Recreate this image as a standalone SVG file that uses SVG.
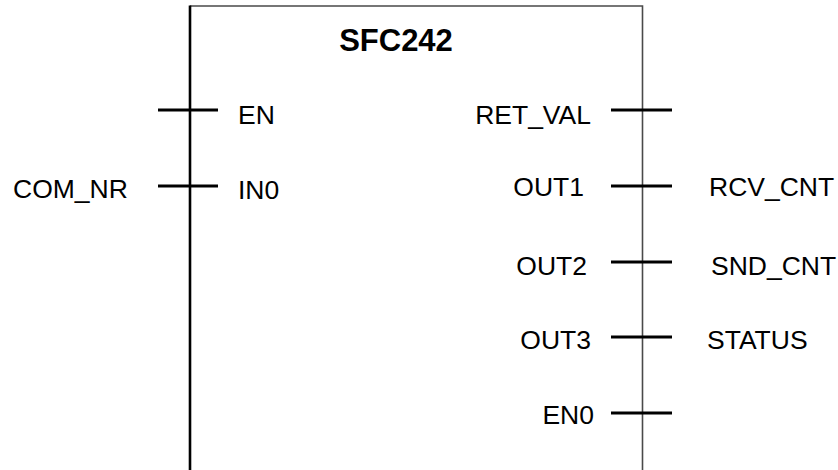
<svg xmlns="http://www.w3.org/2000/svg" width="838" height="470" viewBox="0 0 838 470">
<style>
.t{font-family:"Liberation Sans",Arial,sans-serif;font-size:26.5px;fill:#000}
.r{text-anchor:end}
.pin{stroke:#000;stroke-width:3;fill:none}
.frame{stroke:#4a4a4a;stroke-width:1.6;fill:none}
</style>
<rect width="838" height="470" fill="#fff"/>
<g id="block">
<path class="frame" d="M190 6 H642.5 V470"/>
<line x1="190" y1="5.5" x2="190" y2="470" stroke="#000" stroke-width="2.6"/>
<text x="396" y="51" text-anchor="middle" style="font-family:'Liberation Sans',Arial,sans-serif;font-size:31px;font-weight:bold">SFC242</text>
</g>
<g id="connectors">
<line class="pin" x1="158" y1="110" x2="218" y2="110"/>
<line class="pin" x1="158" y1="186" x2="218" y2="186"/>
<line class="pin" x1="611" y1="110" x2="672" y2="110"/>
<line class="pin" x1="611" y1="186" x2="672" y2="186"/>
<line class="pin" x1="611" y1="262" x2="672" y2="262"/>
<line class="pin" x1="611" y1="337" x2="672" y2="337"/>
<line class="pin" x1="611" y1="413" x2="672" y2="413"/>
</g>
<g id="pin-EN"><text class="t" x="238" y="124">EN</text></g>
<g id="pin-IN0"><text class="t" x="238" y="199">IN0</text></g>
<g id="ext-COM_NR"><text class="t" x="13" y="198">COM_NR</text></g>
<g id="pin-RET_VAL"><text class="t r" x="591" y="124">RET_VAL</text></g>
<g id="pin-OUT1"><text class="t r" x="584" y="196">OUT1</text></g>
<g id="pin-OUT2"><text class="t r" x="587" y="275">OUT2</text></g>
<g id="pin-OUT3"><text class="t r" x="591" y="349">OUT3</text></g>
<g id="pin-EN0"><text class="t r" x="594" y="424">EN0</text></g>
<g id="ext-RCV_CNT"><text class="t" x="709" y="196">RCV_CNT</text></g>
<g id="ext-SND_CNT"><text class="t" x="711" y="275">SND_CNT</text></g>
<g id="ext-STATUS"><text class="t" x="707" y="349">STATUS</text></g>
</svg>
